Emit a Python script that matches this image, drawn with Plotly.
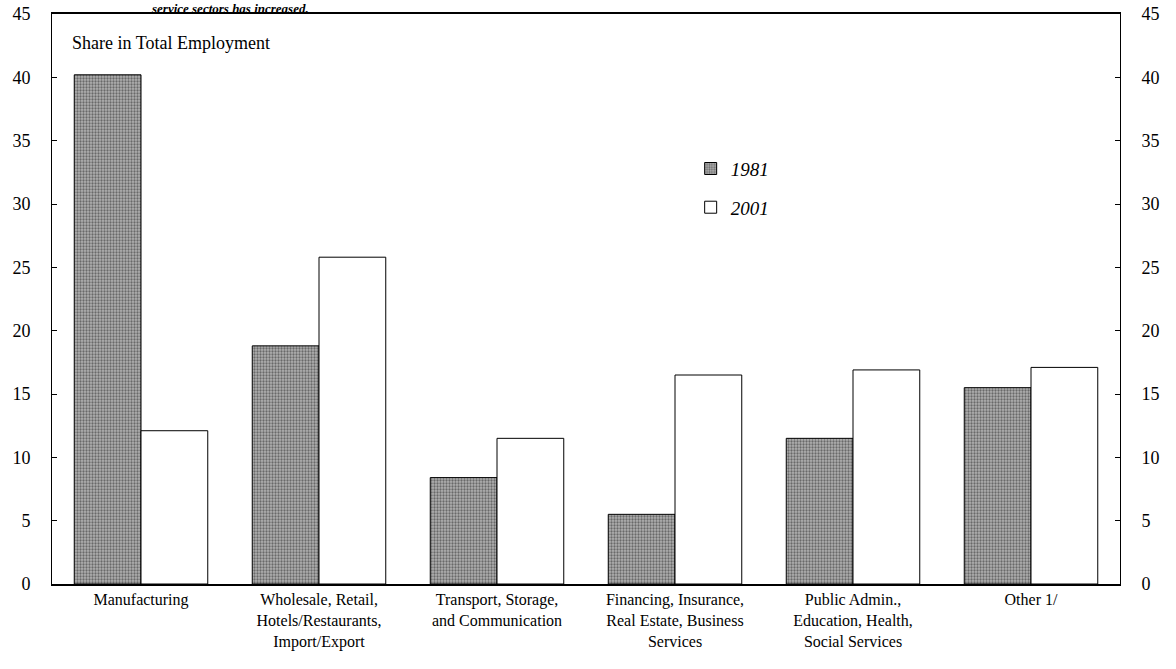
import plotly.graph_objects as go

categories = [
    "Manufacturing",
    "Wholesale, Retail,<br>Hotels/Restaurants,<br>Import/Export",
    "Transport, Storage,<br>and Communication",
    "Financing, Insurance,<br>Real Estate, Business<br>Services",
    "Public Admin.,<br>Education, Health,<br>Social Services",
    "Other 1/",
]
share_1981 = [40.2, 18.8, 8.4, 5.5, 11.5, 15.5]
share_2001 = [12.1, 25.8, 11.5, 16.5, 16.9, 17.1]
y_ticks = [0, 5, 10, 15, 20, 25, 30, 35, 40, 45]

SERIF = "Liberation Serif, Times New Roman, serif"

fig = go.Figure()
fig.add_trace(go.Bar(
    name="<i>1981</i>", x=categories, y=share_1981, legendgroup="a",
    marker=dict(color="#9a9a9a", line=dict(color="black", width=1),
                pattern=dict(shape=".", fgcolor="#222222", bgcolor="#b0b0b0",
                             size=3, solidity=0.45)),
))
fig.add_trace(go.Bar(
    name="<i>2001</i>", x=categories, y=share_2001, legendgroup="b",
    marker=dict(color="white", line=dict(color="black", width=1)),
))

fig.update_layout(
    width=1176, height=669,
    barmode="group", bargap=0.25, bargroupgap=0,
    plot_bgcolor="white", paper_bgcolor="white",
    margin=dict(l=52, r=56, t=14, b=85, autoexpand=False),
    font=dict(family=SERIF, color="black"),
    showlegend=True,
    legend=dict(x=0.598, y=0.762, xanchor="left", yanchor="top",
                bgcolor="rgba(0,0,0,0)", font=dict(family=SERIF, size=19),
                itemwidth=30, tracegroupgap=11),
    xaxis=dict(showline=True, linecolor="black", linewidth=2, mirror=True,
               automargin=False,
               ticks="", tickfont=dict(family=SERIF, size=16), tickangle=0),
    yaxis=dict(range=[0, 45], tickvals=y_ticks, showgrid=False, zeroline=False,
               showline=True, linecolor="black", linewidth=1, automargin=False,
               ticks="inside", ticklen=5, tickcolor="black",
               tickfont=dict(family=SERIF, size=18), ticklabelstandoff=17),
    yaxis2=dict(range=[0, 45], tickvals=y_ticks, overlaying="y", side="right",
                showgrid=False, zeroline=False, showline=True, linecolor="black",
                automargin=False,
                ticks="inside", ticklen=5, tickcolor="black",
                tickfont=dict(family=SERIF, size=18), ticklabelstandoff=17),
    annotations=[
        dict(text="Share in Total Employment", xref="paper", yref="paper",
             x=0.017, y=0.95, xanchor="left", yanchor="middle", showarrow=False,
             font=dict(family=SERIF, size=18)),
        dict(text="<b><i>service sectors has increased.</i></b>", xref="paper", yref="paper",
             x=0.092, y=1.0246, xanchor="left", yanchor="top", showarrow=False,
             font=dict(family=SERIF, size=13), borderpad=0),
    ],
)
fig.add_trace(go.Scatter(x=[categories[0]], y=[0], yaxis="y2", mode="markers",
                         marker=dict(opacity=0), showlegend=False, hoverinfo="skip"))

fig.write_html("out.html", config={"displayModeBar": False},
               post_script="document.body.style.margin='0';document.body.style.overflow='hidden';")
